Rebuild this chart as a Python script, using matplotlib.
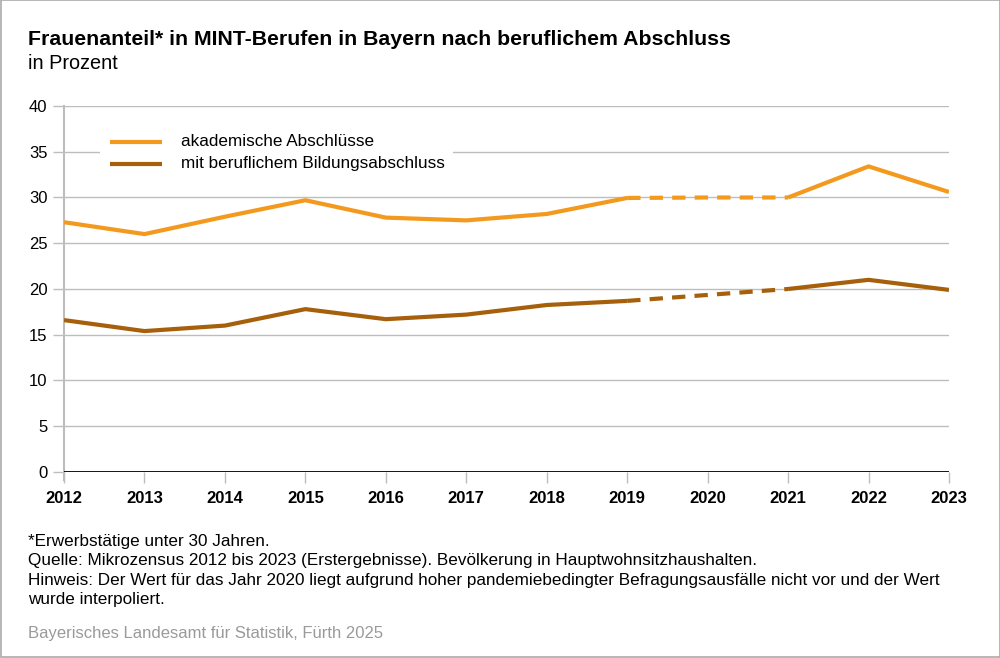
import matplotlib.pyplot as plt
from matplotlib.patches import Rectangle

plt.rcParams['font.family'] = ['Liberation Sans', 'DejaVu Sans']

years = [2012, 2013, 2014, 2015, 2016, 2017, 2018, 2019, 2020, 2021, 2022, 2023]
akademisch = [27.3, 26.0, 27.9, 29.7, 27.8, 27.5, 28.2, 29.95, 30.0, 30.0, 33.4, 30.6]
beruflich = [16.6, 15.4, 16.0, 17.8, 16.7, 17.2, 18.25, 18.7, 19.35, 20.0, 21.0, 19.9]
yticks = [0, 5, 10, 15, 20, 25, 30, 35, 40]

col_ak = '#F39A1E'
col_be = '#A65F0B'
grid_col = '#BDBDBD'

fig = plt.figure(figsize=(10, 6.58), dpi=100)
fig.patches.append(Rectangle((0.0005, 0.0008), 0.999, 0.9985, transform=fig.transFigure,
                             fill=False, edgecolor='#AAAAAA', linewidth=1.2))
ax = fig.add_axes([0.064, 0.2827, 0.885, 0.5562])

# durchgezogen 2012-2019 und 2021-2023, gestrichelt fuer interpoliertes 2020
for vals, col in [(akademisch, col_ak), (beruflich, col_be)]:
    ax.plot(years[:8], vals[:8], color=col, lw=3, solid_capstyle='butt', zorder=3)
    ax.plot(years[9:], vals[9:], color=col, lw=3, solid_capstyle='butt', zorder=3)
    ax.plot(years[7:10], vals[7:10], color=col, lw=3, ls=(0, (3.2, 2.2)), zorder=3)

ax.set_xlim(2012, 2023)
ax.set_ylim(0, 40)
ax.set_yticks(yticks)
ax.set_xticks(years)
ax.set_yticklabels([str(v) for v in yticks], fontsize=12)
ax.set_xticklabels([str(y) for y in years], fontsize=12, fontweight='bold')
ax.grid(axis='y', color=grid_col, lw=1)
ax.set_axisbelow(True)
for s in ['top', 'right', 'bottom']:
    ax.spines[s].set_visible(False)
ax.spines['left'].set_color(grid_col)
ax.spines['left'].set_linewidth(1.5)
ax.spines['left'].set_bounds(-0.9, 40)
ax.axhline(0, color='black', lw=2, zorder=4)
ax.tick_params(axis='y', length=8, color=grid_col, width=1, pad=4)
ax.tick_params(axis='x', length=8, color=grid_col, width=1, pad=6)

# Legende mit weissem Hintergrund
ax.add_patch(Rectangle((2012.45, 31.0), 4.38, 5.6, facecolor='white', edgecolor='none',
                       zorder=2))
ax.plot([2012.57, 2013.22], [36.1, 36.1], color=col_ak, lw=3, solid_capstyle='butt', zorder=3)
ax.plot([2012.57, 2013.22], [33.7, 33.7], color=col_be, lw=3, solid_capstyle='butt', zorder=3)
ax.text(2013.46, 36.1, 'akademische Abschlüsse', fontsize=12.3, va='center', zorder=3)
ax.text(2013.46, 33.7, 'mit beruflichem Bildungsabschluss', fontsize=12.3, va='center', zorder=3)

fig.text(0.028, 1 - 45 / 658, 'Frauenanteil* in MINT-Berufen in Bayern nach beruflichem Abschluss',
         fontsize=15.3, fontweight='bold', va='baseline')
fig.text(0.028, 1 - 69 / 658, 'in Prozent', fontsize=14.3, va='baseline')

notes = ['*Erwerbstätige unter 30 Jahren.',
         'Quelle: Mikrozensus 2012 bis 2023 (Erstergebnisse). Bevölkerung in Hauptwohnsitzhaushalten.',
         'Hinweis: Der Wert für das Jahr 2020 liegt aufgrund hoher pandemiebedingter Befragungsausfälle nicht vor und der Wert',
         'wurde interpoliert.']
for i, t in enumerate(notes):
    fig.text(0.028, 1 - (546 + i * 19.3) / 658, t, fontsize=12.3, va='baseline')
fig.text(0.028, 1 - 638 / 658, 'Bayerisches Landesamt für Statistik, Fürth 2025', fontsize=12,
         color='#9A9A9A', va='baseline')

fig.savefig('out.png', dpi=100)
